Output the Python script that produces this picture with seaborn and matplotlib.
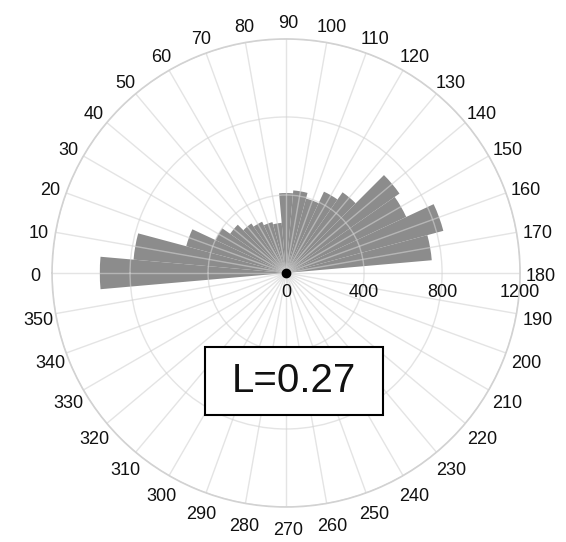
"""Rose diagram of orientations with mean resultant length."""

import matplotlib.pyplot as plt
import matplotlib.transforms as mtransforms
import numpy as np
import seaborn as sns
from matplotlib.patches import Rectangle

# bin centres (degrees, 0 = left, clockwise) and counts
bin_centres = [0, 10, 20, 30, 40, 50, 60, 70, 80, 90,
               100, 110, 120, 130, 140, 150, 160, 170]
counts = [955, 785, 530, 400, 350, 310, 290, 270, 258, 410,
          425, 395, 460, 505, 710, 680, 835, 750]
theta_ticks = list(range(0, 360, 10))
theta_labels = [str(a) for a in theta_ticks]
r_ticks = [0, 400, 800, 1200]
stat_text = "L=0.27"

sns.set_theme(style="white")
plt.rcParams["font.family"] = ["Liberation Sans", "DejaVu Sans"]

fig = plt.figure(figsize=(5.66, 5.42), dpi=100)
ax = fig.add_axes([0.0919, 0.0646, 0.827, 0.8635], projection="polar")
ax.set_theta_zero_location("W")
ax.set_theta_direction(-1)

ax.bar(np.deg2rad(bin_centres), counts, width=np.deg2rad(10),
       color="#8c8c8c", edgecolor="none", zorder=1)
ax.plot([0], [0], "o", color="black", ms=6, zorder=5)

ax.set_ylim(0, 1200)
ax.set_yticks(r_ticks[1:])
ax.set_yticklabels([])
ax.set_xticks(np.deg2rad(theta_ticks))
ax.set_xticklabels([])
ax.grid(True, color="#d2d2d2", linewidth=1.0, alpha=0.6, zorder=3)
ax.set_axisbelow(False)
ax.spines["polar"].set_color("#d2d2d2")
ax.spines["polar"].set_linewidth(1.2)

# angle labels sit on a ring just outside the outer circle
ring = mtransforms.offset_copy(ax.transData, fig=fig, x=2, y=-4, units="dots")
for a, lab in zip(theta_ticks, theta_labels):
    ax.text(np.deg2rad(a), 1298, lab, transform=ring, ha="center", va="center",
            fontsize=13, color="#111111", clip_on=False)

offset = mtransforms.offset_copy(ax.transData, fig=fig, x=0, y=-20, units="dots")
for r in r_ticks:
    ax.text(np.deg2rad(180), r, str(r), transform=offset, ha="center",
            va="center", fontsize=13, color="#111111")

fig.add_artist(Rectangle((0.362, 0.234), 0.315, 0.126, transform=fig.transFigure,
                         facecolor="white", edgecolor="black", linewidth=1.5, zorder=10))
fig.text(0.519, 0.297, stat_text, ha="center", va="center", fontsize=29,
         color="#111111", zorder=11)

fig.savefig("out.png", dpi=100)
